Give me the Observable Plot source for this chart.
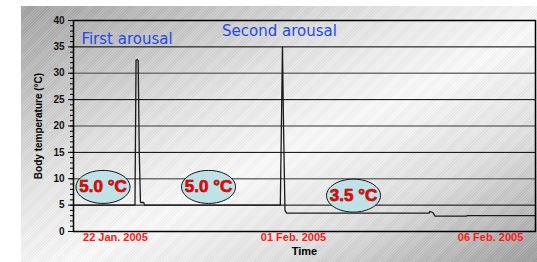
<!DOCTYPE html>
<html><head><meta charset="utf-8">
<script src="https://cdn.jsdelivr.net/npm/d3@7"></script>
<script src="https://cdn.jsdelivr.net/npm/@observablehq/plot@0.6"></script>
<style>
html,body{margin:0;padding:0;background:#fff;}
#wrap{position:relative;width:537px;height:262px;overflow:hidden;font-family:"Liberation Sans",Arial,sans-serif;}
#bg{position:absolute;left:21px;top:6px;width:516px;height:256px;
 background:
  repeating-linear-gradient(135deg, rgba(255,255,255,0.10) 0px, rgba(255,255,255,0.10) 1px, rgba(0,0,0,0.04) 1px, rgba(0,0,0,0.04) 2px),
  linear-gradient(to bottom right, #a2a2a2 0%, #e4e4e4 35%, #fbfbfb 55%, #e0e0e0 75%, #9e9e9e 100%);}
#chart{position:absolute;left:0;top:0;}
</style></head>
<body><div id="wrap"><div id="bg"></div><div id="chart"></div></div>
<script>
// time in days from the left edge of the record
const times = [0, 3.46, 3.52, 3.58, 3.64, 3.70, 3.77, 3.95, 4.0, 11.64, 11.70, 11.76, 11.82, 11.90, 12.0, 20.02, 20.05, 20.22, 20.35, 22.1, 22.15, 26];
const temps = [5.0, 5.0, 32.5, 32.6, 32.4, 15, 5.5, 5.5, 5.0, 5.0, 20, 35, 20, 4.0, 3.5, 3.5, 3.8, 3.6, 2.9, 2.9, 3.0, 3.0];

const yTicks = [0, 5, 10, 15, 20, 25, 30, 35, 40];
const yMinor = d3.range(0, 41, 1);
const gridBlack = [5, 15, 25, 35];
const gridGray = [10, 20, 30];

const xTickPos = [2.36, 12.38, 23.47];
const xTickLabels = ["22 Jan. 2005", "01 Feb. 2005", "06 Feb. 2005"];

const arousalLabels = ["First arousal", "Second arousal"];
const arousalX = [3.01, 11.59];
const arousalY = [35.6, 37.0];

const bubbleLabels = ["5.0 °C", "5.0 °C", "3.5 °C"];
const bubbleX = [1.66, 7.6, 15.76];
const bubbleY = [8.45, 8.45, 6.8];

const series = times.map((t, i) => ({t, v: temps[i]}));
const arousals = arousalLabels.map((s, i) => ({s, x: arousalX[i], y: arousalY[i]}));
const bubbles = bubbleLabels.map((s, i) => ({s, x: bubbleX[i], y: bubbleY[i]}));
const xLabelMap = new Map(xTickPos.map((p, i) => [p, xTickLabels[i]]));

const ellipseSymbol = {
  draw(ctx, size) {
    const rx = 27, ry = 16.5, k = 0.5523;
    ctx.moveTo(rx, 0);
    ctx.bezierCurveTo(rx, ry * k, rx * k, ry, 0, ry);
    ctx.bezierCurveTo(-rx * k, ry, -rx, ry * k, -rx, 0);
    ctx.bezierCurveTo(-rx, -ry * k, -rx * k, -ry, 0, -ry);
    ctx.bezierCurveTo(rx * k, -ry, rx, -ry * k, rx, 0);
    ctx.closePath();
  }
};

const chart = Plot.plot({
  width: 537, height: 262,
  marginLeft: 73, marginRight: 2, marginTop: 20, marginBottom: 31,
  style: {background: "transparent", fontFamily: "'Liberation Sans', Arial, sans-serif"},
  x: {domain: [0, 26], axis: null},
  y: {domain: [0, 40], axis: null},
  marks: [
    Plot.ruleY(gridGray, {stroke: "#707070", strokeWidth: 1.6}),
    Plot.ruleY(gridBlack, {stroke: "#000", strokeWidth: 1}),
    Plot.line(series, {x: "t", y: "v", stroke: "#1a1a1a", strokeWidth: 1.3}),
    Plot.frame({stroke: "#000", strokeWidth: 1.5}),
    Plot.axisY(yMinor, {tickSize: 3, tickFormat: () => "", label: null, stroke: "#000"}),
    Plot.axisY(yTicks, {tickSize: 5, tickPadding: 4, label: null, fontSize: 10, fontWeight: "bold", fill: "#111", stroke: "#000"}),
    Plot.axisX(xTickPos, {tickSize: 0, tickPadding: 2, label: null, tickFormat: d => xLabelMap.get(d), fontSize: 11, fontWeight: "bold", fill: "#ff1a1a"}),
    Plot.text(["Body temperature (°C)"], {frameAnchor: "left", textAnchor: "middle", rotate: -90, dx: -35, fontSize: 10, fontWeight: "bold", fill: "#000"}),
    Plot.text(["Time"], {frameAnchor: "bottom", dy: 23, fontSize: 11, fontWeight: "bold", fill: "#000"}),
    Plot.text(arousals, {x: "x", y: "y", text: "s", lineAnchor: "bottom", fontSize: 15, fill: "#2448e6", fontFamily: "'DejaVu Sans', sans-serif"}),
    Plot.dot(bubbles, {x: "x", y: "y", symbol: ellipseSymbol, r: 10, fill: "#bfe2e6", stroke: "#111", strokeWidth: 1}),
    Plot.text(bubbles, {x: "x", y: "y", text: "s", fontSize: 17, fontWeight: "bold", fill: "#ee0000", stroke: "#550000", strokeWidth: 0.6})
  ]
});
document.getElementById("chart").appendChild(chart);
</script></body></html>
